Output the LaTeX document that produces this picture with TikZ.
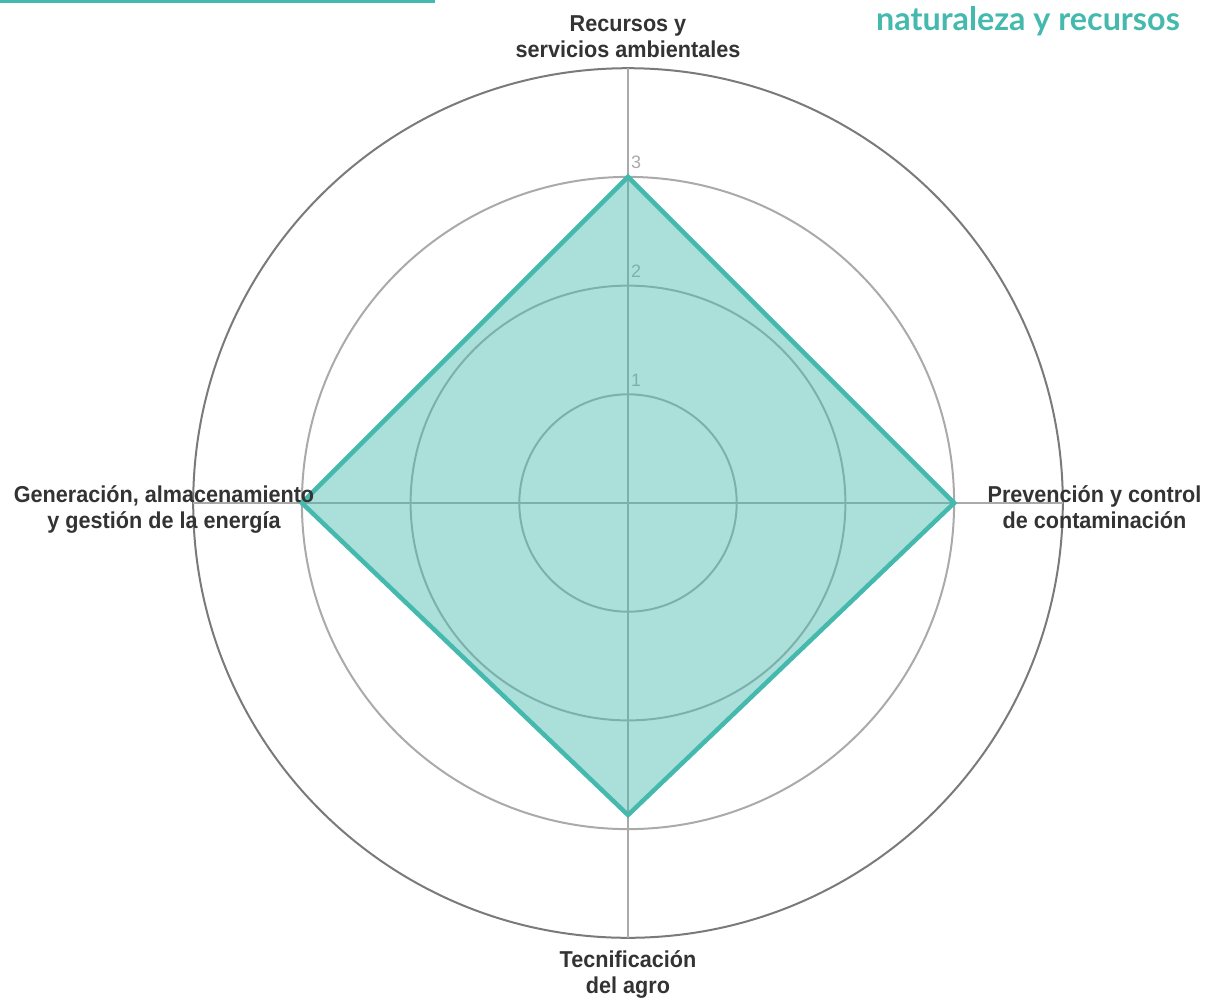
\documentclass[tikz,border=0pt]{standalone}
\usepackage{fontspec}
\setmainfont{Liberation Sans}
\newfontfamily\latofont{Lato}
\newfontfamily\rotulo[FakeStretch=0.94]{Liberation Sans}
\usepackage{tikz}
\usetikzlibrary{arrows}

\definecolor{agua}{HTML}{45B9AE}
\definecolor{rejilla}{HTML}{AAAAAA}
\definecolor{borde}{HTML}{7A7A7A}
\definecolor{texto}{HTML}{333333}

\tikzset{
	eje/.style={draw=rejilla,line width=1.5},
	anillo/.style={draw=rejilla,line width=2},
	etiqueta/.style={text=texto,align=center,inner sep=0,font=\rotulo\fontsize{23}{26}\selectfont\bfseries},
	marca/.style={text=rejilla,inner sep=0,anchor=base west,font=\fontsize{18}{18}\selectfont}
}

\begin{document}
\begin{tikzpicture}[x=1pt,y=1pt]
		\useasboundingbox (0,0) rectangle (1206,-997);
		
		% franja y titulo
		\coordinate (fa) at (0,-1.25);
		\coordinate (fb) at (435,-1.25);
		\draw[agua,line width=2.5] (fa) -- (fb);
		\node[text=agua,inner sep=0,anchor=base east,font=\latofont\bfseries\fontsize{32.3}{32}\selectfont] (titulo) at (1180,-30) {naturaleza y recursos};
		
		% anillos
		\coordinate (c) at (628,-503);
		\draw[anillo] (c) circle (108.7);
		\draw[anillo] (c) circle (217.4);
		\draw[anillo] (c) circle (326.1);
		\draw[draw=borde,line width=2] (c) circle (434.8);
		
		% ejes
		\coordinate (n4) at (628,-68.2);
		\coordinate (e4) at (1062.8,-503);
		\coordinate (s4) at (628,-937.8);
		\coordinate (w4) at (193.2,-503);
		\draw[eje] (c) -- (n4);
		\draw[eje] (c) -- (e4);
		\draw[eje] (c) -- (s4);
		\draw[eje] (c) -- (w4);
		
		\node[marca] (m3) at (631,-168) {3};
		\node[marca] (m2) at (631,-277) {2};
		\node[marca] (m1) at (631,-386) {1};
		
		% valores
		\coordinate (vn) at (628,-176.9);
		\coordinate (ve) at (954.1,-503);
		\coordinate (vs) at (628,-815);
		\coordinate (vw) at (301.9,-503);
		\path[fill=agua,fill opacity=0.45] (vn) -- (ve) -- (vs) -- (vw) -- cycle;
		\draw[agua,line width=4.5] (vn) -- (ve) -- (vs) -- (vw) -- cycle;
		
		\node[etiqueta,anchor=south] (recursos) at (628,-58) {Recursos y\\servicios ambientales};
		\node[etiqueta,anchor=north] (prevencion) at (1094.5,-485) {Prevención y control\\de contaminación};
		\node[etiqueta,anchor=north] (tecnificacion) at (628,-950) {Tecnificación\\del agro};
		\node[etiqueta,anchor=north] (generacion) at (164,-485) {Generación, almacenamiento\\y gestión de la energía};
	\end{tikzpicture}
\end{document}
